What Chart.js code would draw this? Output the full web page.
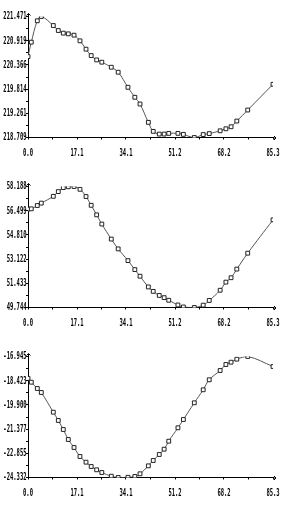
<!DOCTYPE html>
<html>
<head>
<meta charset="utf-8">
<script src="https://cdn.jsdelivr.net/npm/chart.js@4.4.1/dist/chart.umd.min.js"></script>
<style>
    body { margin: 0; background: #fff; }
    .panel { width: 302px; height: 170px; }
</style>
</head>
<body>
<div class="panel"><canvas id="chart1" width="302" height="170"></canvas></div>
<div class="panel"><canvas id="chart2" width="302" height="170"></canvas></div>
<div class="panel"><canvas id="chart3" width="302" height="170"></canvas></div>
<script>
const xValues = [0, 1.15, 3.24, 4.63, 8.81, 10.55, 12.29, 14.03, 16.02, 18.1,
    20.2, 22.0, 23.9, 25.7, 29.0, 31.4, 34.8, 37.2, 39.0, 41.9,
    43.6, 45.7, 47.4, 49.0, 52.2, 54.1, 57.9, 61.0, 63.1, 66.9,
    68.9, 70.7, 72.7, 76.5, 85.3];

const series1 = [220.556, 220.885, 221.373, 221.471, 221.265, 221.151, 221.091, 221.075, 221.045, 220.915,
    220.725, 220.579, 220.480, 220.428, 220.313, 220.199, 219.855, 219.627, 219.473, 219.055,
    218.849, 218.787, 218.787, 218.803, 218.803, 218.780, 218.709, 218.776, 218.798, 218.862,
    218.908, 218.954, 219.084, 219.336, 219.924];

const series2 = [56.609, 56.630, 56.860, 57.028, 57.503, 57.832, 58.111, 58.170, 58.188, 57.992,
    57.489, 56.874, 56.210, 55.567, 54.519, 53.834, 53.017, 52.388, 51.927, 51.179,
    50.870, 50.585, 50.431, 50.249, 49.921, 49.781, 49.744, 49.907, 50.236, 50.948,
    51.514, 51.822, 52.423, 53.534, 55.861];

const series3 = [-18.280, -18.514, -18.899, -19.143, -20.345, -20.852, -21.402, -22.012, -22.501, -23.050,
    -23.398, -23.661, -23.862, -24.027, -24.253, -24.332, -24.320, -24.271, -24.106, -23.620,
    -23.294, -22.928, -22.604, -22.116, -21.298, -20.791, -19.772, -18.978, -18.367, -17.800,
    -17.433, -17.293, -17.110, -16.945, -17.556];

const xTicks = [0.0, 17.06, 34.12, 51.18, 68.24, 85.3];
const yTicks1 = [218.709, 219.2614, 219.8138, 220.3662, 220.9186, 221.471];
const yTicks2 = [49.744, 51.4328, 53.1216, 54.8104, 56.4992, 58.188];
const yTicks3 = [-24.3322, -22.8548, -21.3774, -19.9000, -18.4226, -16.9452];

// the reference uses a very narrow font, so labels get squeezed sideways
const LABEL_FONT = 'bold 11px "DejaVu Sans Mono", monospace';
const SQUEEZE = 0.5;

// major ticks plus a minor one half way between
function withMinor(major) {
    const all = [];
    major.forEach((v, i) => {
        all.push(v);
        if (i < major.length - 1) all.push((v + major[i + 1]) / 2);
    });
    return all;
}

const axisDecor = {
    id: 'axisDecor',
    afterDraw(chart) {
        const { ctx, chartArea } = chart;
        const { left, top, right, bottom } = chartArea;
        ctx.save();
        ctx.strokeStyle = '#000';
        ctx.lineWidth = 1;
        ctx.beginPath();
        ctx.moveTo(left + 0.5, top);
        ctx.lineTo(left + 0.5, top - 3);
        ctx.moveTo(left - 1.5, top - 1);
        ctx.lineTo(left + 0.5, top - 3);
        ctx.lineTo(left + 2.5, top - 1);
        ctx.moveTo(right, bottom + 0.5);
        ctx.lineTo(right + 3, bottom + 0.5);
        ctx.moveTo(right + 1, bottom - 1.5);
        ctx.lineTo(right + 3, bottom + 0.5);
        ctx.lineTo(right + 1, bottom + 2.5);
        ctx.stroke();

        ctx.fillStyle = '#000';
        ctx.font = LABEL_FONT;
        ctx.textBaseline = 'middle';

        const xs = chart.scales.x;
        ctx.textAlign = 'center';
        xs.ticks.forEach((t, i) => {
            if (i % 2) return;
            ctx.save();
            ctx.translate(xs.getPixelForValue(t.value), bottom + 16);
            ctx.scale(SQUEEZE, 1);
            ctx.fillText(t.value.toFixed(1), 0, 0);
            ctx.restore();
        });

        const ys = chart.scales.y;
        ctx.textAlign = 'right';
        ys.ticks.forEach((t, i) => {
            if (i % 2) return;
            ctx.save();
            ctx.translate(left - 1.5, ys.getPixelForValue(t.value));
            ctx.scale(SQUEEZE, 1);
            ctx.fillText(t.value.toFixed(3), 0, 0);
            ctx.restore();
        });
        ctx.restore();
    }
};

function makeChart(id, values, yTicks) {
    const ctx = document.getElementById(id).getContext('2d');
    return new Chart(ctx, {
        type: 'line',
        data: {
            datasets: [{
                data: xValues.map((x, i) => ({ x: x, y: values[i] })),
                borderColor: '#555',
                borderWidth: 1,
                tension: 0.4,
                pointStyle: 'rect',
                pointRadius: 2.7,
                pointBackgroundColor: '#fff',
                pointBorderColor: '#222',
                pointBorderWidth: 1,
            }]
        },
        options: {
            responsive: false,
            animation: false,
            layout: {
                padding: { left: 0, right: 29, top: 16.5, bottom: 0 }
            },
            plugins: {
                legend: { display: false },
                tooltip: { enabled: false },
            },
            scales: {
                x: {
                    type: 'linear',
                    min: xTicks[0],
                    max: xTicks[xTicks.length - 1],
                    afterBuildTicks: (scale) => {
                        scale.ticks = withMinor(xTicks).map((v) => ({ value: v }));
                    },
                    afterFit: (scale) => { scale.height = 32.5; },
                    grid: { drawOnChartArea: false, color: '#000', tickLength: 2 },
                    border: { color: '#000' },
                    ticks: { display: false, autoSkip: false },
                },
                y: {
                    min: yTicks[0],
                    max: yTicks[yTicks.length - 1],
                    afterBuildTicks: (scale) => {
                        scale.ticks = withMinor(yTicks).map((v) => ({ value: v }));
                    },
                    afterFit: (scale) => { scale.width = 28; },
                    grid: { drawOnChartArea: false, color: '#000', tickLength: 2 },
                    border: { color: '#000' },
                    ticks: { display: false, autoSkip: false },
                },
            },
        },
        plugins: [axisDecor],
    });
}

makeChart('chart1', series1, yTicks1);
makeChart('chart2', series2, yTicks2);
makeChart('chart3', series3, yTicks3);
</script>
</body>
</html>
